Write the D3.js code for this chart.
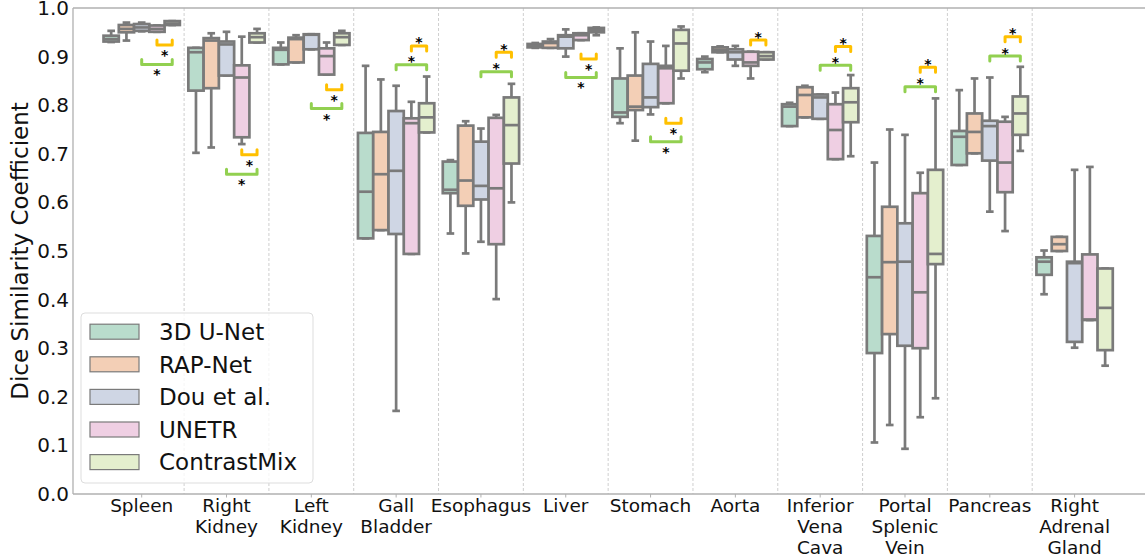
<!DOCTYPE html>
<html>
<head>
<meta charset="utf-8">
<script src="https://cdn.jsdelivr.net/npm/d3@7"></script>
<style>
  body { margin: 0; background: #fff; }
  text { font-family: "DejaVu Sans", sans-serif; }
</style>
</head>
<body>
<div class="diagram"></div>
<script>
// DATA
var organs = ["Spleen", "Right\nKidney", "Left\nKidney", "Gall\nBladder", "Esophagus", "Liver",
  "Stomach", "Aorta", "Inferior\nVena\nCava", "Portal\nSplenic\nVein", "Pancreas", "Right\nAdrenal\nGland"];
var methods = ["3D U-Net", "RAP-Net", "Dou et al.", "UNETR", "ContrastMix"];
var yTicks = [0, 0.1, 0.2, 0.3, 0.4, 0.5, 0.6, 0.7, 0.8, 0.9, 1.0];

// [low whisker, q1, median, q3, high whisker] for each organ
var unet3d = [
  [0.930, 0.931, 0.936, 0.943, 0.953], [0.702, 0.830, 0.909, 0.918, 0.918], [0.884, 0.884, 0.914, 0.918, 0.929],
  [0.526, 0.526, 0.622, 0.743, 0.881], [0.536, 0.619, 0.626, 0.684, 0.687], [0.918, 0.919, 0.923, 0.926, 0.928],
  [0.763, 0.776, 0.785, 0.855, 0.917], [0.868, 0.874, 0.888, 0.895, 0.900], [0.757, 0.757, 0.797, 0.802, 0.805],
  [0.106, 0.290, 0.446, 0.531, 0.682], [0.677, 0.677, 0.735, 0.747, 0.831], [0.411, 0.451, 0.478, 0.487, 0.501]
];
var rapnet = [
  [0.933, 0.950, 0.957, 0.965, 0.970], [0.713, 0.835, 0.933, 0.938, 0.948], [0.888, 0.888, 0.936, 0.939, 0.944],
  [0.543, 0.543, 0.658, 0.745, 0.853], [0.495, 0.593, 0.645, 0.758, 0.767], [0.918, 0.918, 0.928, 0.931, 0.936],
  [0.727, 0.790, 0.797, 0.861, 0.950], [0.909, 0.909, 0.914, 0.919, 0.921], [0.775, 0.775, 0.821, 0.837, 0.840],
  [0.142, 0.329, 0.477, 0.591, 0.750], [0.701, 0.701, 0.745, 0.783, 0.855], [0.500, 0.500, 0.514, 0.529, 0.529]
];
var dou = [
  [0.952, 0.953, 0.960, 0.967, 0.970], [0.861, 0.861, 0.925, 0.931, 0.951], [0.915, 0.915, 0.945, 0.946, 0.946],
  [0.171, 0.535, 0.665, 0.788, 0.840], [0.519, 0.606, 0.634, 0.725, 0.752], [0.900, 0.917, 0.941, 0.944, 0.956],
  [0.781, 0.796, 0.816, 0.885, 0.931], [0.881, 0.894, 0.909, 0.915, 0.922], [0.772, 0.772, 0.816, 0.822, 0.822],
  [0.093, 0.305, 0.478, 0.557, 0.739], [0.581, 0.686, 0.757, 0.768, 0.857], [0.301, 0.313, 0.475, 0.478, 0.667]
];
var unetr = [
  [0.951, 0.951, 0.957, 0.964, 0.964], [0.720, 0.734, 0.857, 0.882, 0.941], [0.863, 0.863, 0.901, 0.917, 0.929],
  [0.494, 0.494, 0.763, 0.773, 0.807], [0.401, 0.514, 0.629, 0.774, 0.780], [0.934, 0.934, 0.944, 0.948, 0.948],
  [0.804, 0.804, 0.876, 0.881, 0.922], [0.855, 0.881, 0.888, 0.910, 0.910], [0.689, 0.689, 0.749, 0.802, 0.826],
  [0.158, 0.300, 0.415, 0.619, 0.661], [0.541, 0.621, 0.682, 0.766, 0.776], [0.358, 0.358, 0.359, 0.493, 0.673]
];
var contrastmix = [
  [0.965, 0.965, 0.968, 0.973, 0.973], [0.929, 0.929, 0.940, 0.948, 0.957], [0.924, 0.924, 0.940, 0.948, 0.953],
  [0.744, 0.744, 0.775, 0.804, 0.859], [0.600, 0.680, 0.759, 0.816, 0.844], [0.944, 0.950, 0.955, 0.959, 0.960],
  [0.855, 0.871, 0.927, 0.955, 0.962], [0.894, 0.894, 0.901, 0.909, 0.909], [0.695, 0.765, 0.806, 0.835, 0.862],
  [0.197, 0.473, 0.494, 0.667, 0.814], [0.706, 0.739, 0.783, 0.818, 0.879], [0.264, 0.296, 0.383, 0.464, 0.464]
];
var series = [unet3d, rapnet, dou, unetr, contrastmix];

// significance brackets: organ index, bracket level, placement
var sigOrangeOrgans = [0, 1, 2, 3, 4, 5, 6, 7, 8, 9, 10];           // UNETR vs ContrastMix
var sigOrangeLevels = [0.924, 0.698, 0.832, 0.922, 0.909, 0.895, 0.763, 0.934, 0.921, 0.878, 0.941];
var sigGreenOrgans = [0, 1, 2, 3, 4, 5, 6, 8, 9, 10];               // Dou et al. vs ContrastMix
var sigGreenLevels = [0.884, 0.658, 0.793, 0.883, 0.869, 0.857, 0.725, 0.882, 0.838, 0.901];
var sigBelow = [true, true, true, false, false, true, true, false, false, false, false, false];

var fills = ["#b9dccc", "#f3cfb6", "#cfd6e4", "#efcfe3", "#e4efce"];
var edge = "#7a7a7a";

var width = 1145, height = 558;
var plotLeft = 73, plotRight = 1145, plotTop = 8, plotBottom = 494;

var svg = d3.select('.diagram')
  .append('svg')
  .attr('width', width)
  .attr('height', height);

var x = d3.scaleLinear().domain([-0.81, 11.83]).range([plotLeft, plotRight]);
var y = d3.scaleLinear().domain([0, 1]).range([plotBottom, plotTop]);
var xm = d3.scaleBand().domain(d3.range(methods.length)).range([-0.45, 0.45]);

// DIVIDERS
svg.append('g')
  .selectAll('line')
  .data(d3.range(organs.length - 1))
  .enter()
  .append('line')
  .attr('x1', function(d) { return x(d + 0.5); })
  .attr('x2', function(d) { return x(d + 0.5); })
  .attr('y1', plotTop)
  .attr('y2', plotBottom)
  .attr('stroke', '#cfcfcf')
  .attr('stroke-width', 1)
  .attr('stroke-dasharray', '3,2');

// BOXES
var rows = [];
series.forEach(function(s, m) {
  s.forEach(function(v, i) {
    rows.push({ organ: i, method: m, low: v[0], q1: v[1], med: v[2], q3: v[3], high: v[4] });
  });
});

var boxW = x(xm.bandwidth()) - x(0);
function cx(d) { return x(d.organ + xm(d.method) + xm.bandwidth() / 2); }

var boxes = svg.append('g')
  .selectAll('g')
  .data(rows)
  .enter()
  .append('g')
  .attr('stroke', edge)
  .attr('stroke-width', 2.7);

boxes.append('line')
  .attr('x1', cx).attr('x2', cx)
  .attr('y1', function(d) { return y(d.high); })
  .attr('y2', function(d) { return y(d.q3); });
boxes.append('line')
  .attr('x1', cx).attr('x2', cx)
  .attr('y1', function(d) { return y(d.q1); })
  .attr('y2', function(d) { return y(d.low); });
boxes.append('line')
  .attr('x1', function(d) { return cx(d) - boxW / 4; })
  .attr('x2', function(d) { return cx(d) + boxW / 4; })
  .attr('y1', function(d) { return y(d.high); })
  .attr('y2', function(d) { return y(d.high); });
boxes.append('line')
  .attr('x1', function(d) { return cx(d) - boxW / 4; })
  .attr('x2', function(d) { return cx(d) + boxW / 4; })
  .attr('y1', function(d) { return y(d.low); })
  .attr('y2', function(d) { return y(d.low); });
boxes.append('rect')
  .attr('x', function(d) { return cx(d) - boxW / 2; })
  .attr('y', function(d) { return y(d.q3); })
  .attr('width', boxW)
  .attr('height', function(d) { return y(d.q1) - y(d.q3); })
  .attr('fill', function(d) { return fills[d.method]; });
boxes.append('line')
  .attr('x1', function(d) { return cx(d) - boxW / 2; })
  .attr('x2', function(d) { return cx(d) + boxW / 2; })
  .attr('y1', function(d) { return y(d.med); })
  .attr('y2', function(d) { return y(d.med); });

// SIGNIFICANCE BRACKETS
function drawSig(organList, levels, mA, colour) {
  var g = svg.append('g');
  organList.forEach(function(o, k) {
    var x1 = x(o + xm(mA) + xm.bandwidth() / 2);
    var x2 = x(o + xm(4) + xm.bandwidth() / 2);
    var yy = y(levels[k]);
    var leg = sigBelow[o] ? -5 : 5;
    g.append('path')
      .attr('d', 'M' + x1 + ',' + (yy + leg) + 'L' + x1 + ',' + yy + 'L' + x2 + ',' + yy + 'L' + x2 + ',' + (yy + leg))
      .attr('fill', 'none')
      .attr('stroke', colour)
      .attr('stroke-width', 3)
      .attr('stroke-linejoin', 'round')
      .attr('stroke-linecap', 'round');
    g.append('text')
      .attr('x', (x1 + x2) / 2)
      .attr('y', sigBelow[o] ? yy + 15 : yy + 1.5)
      .attr('text-anchor', 'middle')
      .attr('font-size', 14)
      .attr('font-weight', 'bold')
      .attr('fill', '#000')
      .text('*');
  });
}
drawSig(sigGreenOrgans, sigGreenLevels, 2, '#92d050');
drawSig(sigOrangeOrgans, sigOrangeLevels, 3, '#ffc000');

// SPINES
svg.append('g')
  .attr('stroke', '#b0b0b0')
  .attr('stroke-width', 1.3)
  .selectAll('line')
  .data([[plotLeft, plotTop, plotRight, plotTop], [plotLeft, plotBottom, plotRight, plotBottom], [plotLeft, plotTop, plotLeft, plotBottom]])
  .enter()
  .append('line')
  .attr('x1', function(d) { return d[0]; })
  .attr('y1', function(d) { return d[1]; })
  .attr('x2', function(d) { return d[2]; })
  .attr('y2', function(d) { return d[3]; });

// AXES
var yAxis = svg.append('g')
  .attr('transform', 'translate(' + plotLeft + ',0)')
  .call(d3.axisLeft(y).tickValues(yTicks).tickFormat(d3.format('.1f')).tickSize(0).tickPadding(4));
yAxis.select('.domain').remove();
yAxis.selectAll('text')
  .attr('font-size', 20)
  .attr('font-family', '"DejaVu Sans", sans-serif')
  .attr('fill', '#111');

svg.append('text')
  .attr('transform', 'translate(28,' + ((plotTop + plotBottom) / 2) + ') rotate(-90)')
  .attr('text-anchor', 'middle')
  .attr('font-size', 23)
  .attr('fill', '#111')
  .text('Dice Similarity Coefficient');

var xLabels = svg.append('g')
  .selectAll('text')
  .data(organs)
  .enter()
  .append('text')
  .attr('text-anchor', 'middle')
  .attr('font-size', 18.5)
  .attr('fill', '#111');
xLabels.each(function(d, i) {
  var t = d3.select(this);
  d.split('\n').forEach(function(line, j) {
    t.append('tspan')
      .attr('x', x(i))
      .attr('y', 512 + j * 20.8)
      .text(line);
  });
});

svg.append('g')
  .selectAll('line')
  .data(organs)
  .enter()
  .append('line')
  .attr('x1', function(d, i) { return x(i); })
  .attr('x2', function(d, i) { return x(i); })
  .attr('y1', plotBottom)
  .attr('y2', plotBottom + 3.5)
  .attr('stroke', '#b0b0b0')
  .attr('stroke-width', 1);

// LEGEND
var legend = svg.append('g');
legend.append('rect')
  .attr('x', 81).attr('y', 313)
  .attr('width', 232).attr('height', 170)
  .attr('rx', 4)
  .attr('fill', 'rgba(255,255,255,0.8)')
  .attr('stroke', '#dddddd')
  .attr('stroke-width', 1);
var items = legend.selectAll('g.item')
  .data(methods)
  .enter()
  .append('g')
  .attr('class', 'item')
  .attr('transform', function(d, i) { return 'translate(0,' + (331.7 + i * 32.6) + ')'; });
items.append('rect')
  .attr('x', 90).attr('y', -7.5)
  .attr('width', 49).attr('height', 15)
  .attr('fill', function(d, i) { return fills[i]; })
  .attr('stroke', edge)
  .attr('stroke-width', 1.2);
items.append('text')
  .attr('x', 159)
  .attr('y', 8.3)
  .attr('font-size', 23)
  .attr('fill', '#111')
  .text(function(d) { return d; });
</script>
</body>
</html>
